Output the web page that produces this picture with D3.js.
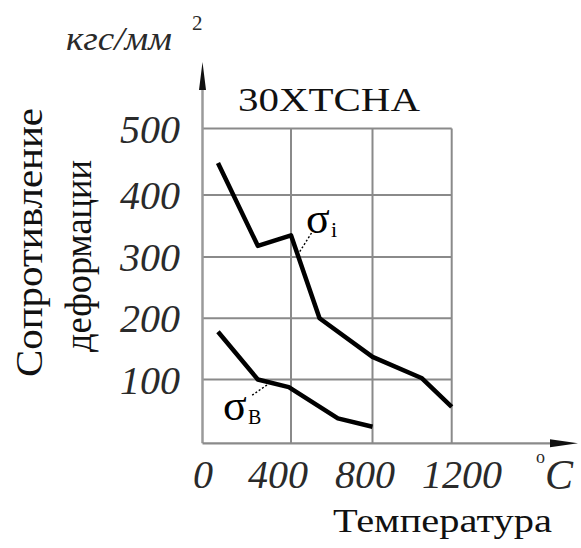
<!DOCTYPE html>
<html>
<head>
<meta charset="utf-8">
<script src="https://cdn.jsdelivr.net/npm/d3@7"></script>
<style>
  html, body { margin: 0; padding: 0; background: #fff; }
  svg { display: block; }
  svg text { font-family: "Liberation Serif", "DejaVu Serif", "Times New Roman", serif; }
</style>
</head>
<body>
<svg id="chart" width="581" height="548"></svg>
<script>
// Temperature grid (°C) and stress grid (кгс/мм²)
const tempTicks = [0, 400, 800, 1200];
const stressTicks = [0, 100, 200, 300, 400, 500];
const xTickLabels = ["0", "400", "800", "1200"];
const yTickLabels = ["100", "200", "300", "400", "500"];

// σi — deformation resistance
const sigmaI_T = [70, 250, 400, 540, 800, 1050, 1200];
const sigmaI_V = [448, 318, 335, 200, 137, 102, 57];

// σв — ultimate strength
const sigmaB_T = [70, 250, 390, 630, 800];
const sigmaB_V = [178, 100, 88, 39, 26];

const svg = d3.select("#chart");
svg.append("rect").attr("width", 581).attr("height", 548).attr("fill", "#fff");

// hand-drawn grid is slightly uneven, so the scales are piecewise
const x = d3.scaleLinear().domain(tempTicks).range([202.5, 291, 372.5, 451.7]);
const y = d3.scaleLinear().domain(stressTicks).range([443.3, 379.5, 318.3, 257, 195, 128.5]);
const xLabelPos = d3.scaleLinear().domain(tempTicks).range([203, 278, 365, 462]);

const gridColor = "#8a8a8a";

// grid
const grid = svg.append("g").attr("stroke", gridColor).attr("stroke-width", 2);
grid.selectAll("line.v").data(tempTicks.slice(1)).join("line")
  .attr("x1", d => x(d)).attr("x2", d => x(d))
  .attr("y1", y(0)).attr("y2", y(500));
grid.selectAll("line.h").data(stressTicks.slice(1)).join("line")
  .attr("x1", x(0)).attr("x2", x(1200))
  .attr("y1", d => y(d)).attr("y2", d => y(d));

// axes with arrows
const axes = svg.append("g");
axes.append("line").attr("x1", x(0)).attr("x2", x(0)).attr("y1", y(0)).attr("y2", 88)
  .attr("stroke", "#9a9a9a").attr("stroke-width", 2.5);
axes.append("line").attr("x1", x(0)).attr("x2", 552).attr("y1", y(0)).attr("y2", y(0))
  .attr("stroke", gridColor).attr("stroke-width", 2.2);
axes.append("path")
  .attr("d", `M${x(0)},62 L${x(0) + 3.5},90 L${x(0) - 3.5},90 Z`)
  .attr("fill", "#111");
axes.append("path")
  .attr("d", `M578,${y(0)} L550,${y(0) - 4} L550,${y(0) + 4} Z`)
  .attr("fill", "#111");

// tick labels
svg.append("g").selectAll("text").data(yTickLabels).join("text")
  .attr("x", 180).attr("y", d => y(+d) + 14)
  .attr("text-anchor", "end")
  .style("font-style", "italic").style("font-size", "40px")
  .attr("fill", "#2a2a2a")
  .text(d => d);

svg.append("g").selectAll("text").data(xTickLabels).join("text")
  .attr("x", d => xLabelPos(+d)).attr("y", 488)
  .attr("text-anchor", "middle")
  .style("font-style", "italic").style("font-size", "40px")
  .attr("fill", "#2a2a2a")
  .text(d => d);

// °C unit
svg.append("text").attr("x", 536).attr("y", 463)
  .style("font-size", "18px").attr("fill", "#2a2a2a").text("o");
svg.append("text").attr("x", 545).attr("y", 489)
  .style("font-style", "italic").style("font-size", "42px")
  .attr("fill", "#2a2a2a").text("C");

// stress unit
svg.append("text").attr("x", 66).attr("y", 50)
  .style("font-style", "italic").style("font-size", "34px")
  .attr("fill", "#2a2a2a")
  .attr("textLength", 106).attr("lengthAdjust", "spacingAndGlyphs")
  .text("кгс/мм");
svg.append("text").attr("x", 192).attr("y", 30)
  .style("font-size", "21px").attr("fill", "#2a2a2a").text("2");

// title
svg.append("text").attr("x", 238).attr("y", 111)
  .style("font-size", "34px").attr("fill", "#111")
  .attr("textLength", 182).attr("lengthAdjust", "spacingAndGlyphs")
  .text("30ХТСНА");

// axis titles
svg.append("text").attr("transform", "translate(42,377) rotate(-90)")
  .style("font-size", "38px").attr("fill", "#111")
  .attr("textLength", 269).attr("lengthAdjust", "spacingAndGlyphs")
  .text("Сопротивление");
svg.append("text").attr("transform", "translate(91,352) rotate(-90)")
  .style("font-size", "38px").attr("fill", "#111")
  .attr("textLength", 192).attr("lengthAdjust", "spacingAndGlyphs")
  .text("деформации");
svg.append("text").attr("x", 333).attr("y", 532)
  .style("font-size", "34px").attr("fill", "#111")
  .attr("textLength", 219).attr("lengthAdjust", "spacingAndGlyphs")
  .text("Температура");

// curves
const line = d3.line().x(d => x(d[0])).y(d => y(d[1]));
const curves = [
  d3.zip(sigmaI_T, sigmaI_V),
  d3.zip(sigmaB_T, sigmaB_V)
];
svg.append("g").selectAll("path").data(curves).join("path")
  .attr("d", line)
  .attr("fill", "none").attr("stroke", "#000")
  .attr("stroke-width", 4.5).attr("stroke-linejoin", "round");

// leader lines to the curve labels
const leaders = svg.append("g").attr("stroke", "#000").attr("stroke-width", 1.4)
  .attr("stroke-dasharray", "2,2");
leaders.append("line").attr("x1", 311.5).attr("y1", 233).attr("x2", 299.5).attr("y2", 252);
leaders.append("line").attr("x1", 267).attr("y1", 385).attr("x2", 251).attr("y2", 396);

// curve labels
const lblI = svg.append("text").attr("x", 306).attr("y", 233)
  .style("font-size", "44px").attr("fill", "#000");
lblI.append("tspan").text("σ");
lblI.append("tspan").attr("x", 331).attr("y", 237).style("font-size", "22px").text("i");

const lblB = svg.append("text").attr("x", 223).attr("y", 420)
  .style("font-size", "44px").attr("fill", "#000");
lblB.append("tspan").text("σ");
lblB.append("tspan").attr("x", 248).attr("y", 423.5).style("font-size", "20px").text("В");
</script>
</body>
</html>
